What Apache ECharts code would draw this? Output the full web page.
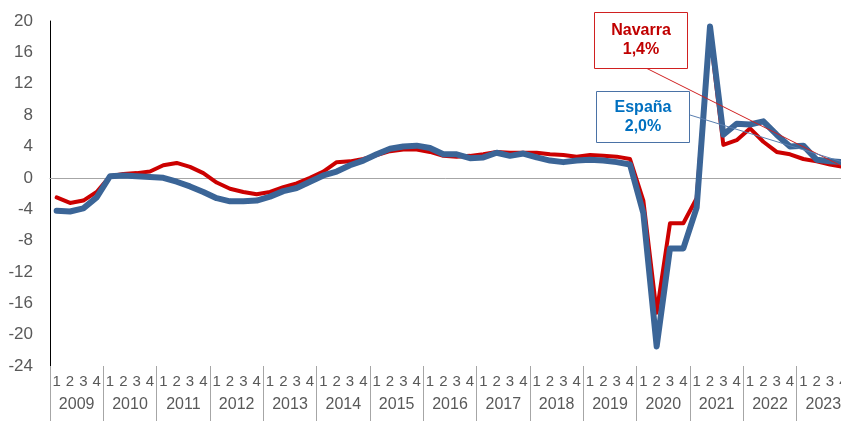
<!DOCTYPE html>
<html>
<head>
<meta charset="utf-8">
<script src="https://cdn.jsdelivr.net/npm/echarts@6/dist/echarts.min.js"></script>
<style>
html,body{margin:0;padding:0;background:#fff;}
#c{width:841px;height:421px;}
</style>
</head>
<body>
<div id="c"></div>
<script>
const years = ['2009','2010','2011','2012','2013','2014','2015','2016','2017','2018','2019','2020','2021','2022','2023'];
const quarters = ['1','2','3','4'];
const yTicks = {min: -24, max: 20, interval: 4};

const navarra = [
  -2.5, -3.2, -2.9, -1.8,
   0.2,  0.5,  0.6,  0.8,
   1.6,  1.9,  1.4,  0.6,
  -0.6, -1.4, -1.8, -2.1,
  -1.8, -1.2, -0.7,  0.0,
   0.8,  2.0,  2.1,  2.4,
   2.9,  3.4,  3.6,  3.6,
   3.3,  2.8,  2.7,  2.8,
   3.0,  3.3,  3.2,  3.2,
   3.2,  3.0,  2.9,  2.7,
   2.9,  2.8,  2.7,  2.4,
  -2.9, -17.2, -5.8, -5.8,
  -2.6, 18.5,  4.2,  4.8,
   6.3,  4.6,  3.3,  3.0,
   2.4,  2.1,  1.7,  1.4
];
const espana = [
  -4.2, -4.3, -3.9, -2.5,
   0.2,  0.3,  0.2,  0.1,
   0.0, -0.5, -1.1, -1.8,
  -2.6, -3.0, -3.0, -2.9,
  -2.4, -1.7, -1.3, -0.5,
   0.3,  0.8,  1.6,  2.2,
   3.0,  3.7,  4.0,  4.1,
   3.8,  3.0,  3.0,  2.5,
   2.6,  3.2,  2.8,  3.1,
   2.6,  2.2,  2.0,  2.2,
   2.3,  2.2,  2.0,  1.7,
  -4.5, -21.5, -9.0, -9.0,
  -3.8, 19.3,  5.5,  6.9,
   6.8,  7.2,  5.5,  4.0,
   4.1,  2.3,  2.1,  2.0
];
const labelNavarra = ['Navarra', '1,4%'];
const labelEspana = ['España', '2,0%'];

const categories = [];
years.forEach(y => quarters.forEach(q => categories.push(y + '-' + q)));

const font = '"Liberation Sans", Arial, sans-serif';
const chart = echarts.init(document.getElementById('c'), null, {renderer: 'canvas'});

const option = {
  animation: false,
  backgroundColor: '#ffffff',
  grid: {left: 50, top: 21, width: 800, height: 345, containLabel: false, outerBoundsMode: 'none'},
  xAxis: [
    {
      type: 'category', data: categories, position: 'bottom', boundaryGap: true,
      axisLine: {show: false, onZero: false}, axisTick: {show: false},
      axisLabel: {interval: 0, margin: 8, fontSize: 15, color: '#595959', fontFamily: font,
        formatter: v => v.split('-')[1]},
      splitLine: {show: false}
    },
    {
      type: 'category', data: years, position: 'bottom', boundaryGap: true,
      axisLine: {show: false, onZero: false},
      axisTick: {show: true, interval: 0, length: 60, lineStyle: {color: '#a6a6a6', width: 1}},
      axisLabel: {interval: 0, margin: 31, fontSize: 16, color: '#595959', fontFamily: font},
      splitLine: {show: false}
    },
    {
      type: 'category', data: categories, position: 'bottom', boundaryGap: true,
      axisLine: {show: true, onZero: true, lineStyle: {color: '#a6a6a6', width: 1}},
      axisTick: {show: false}, axisLabel: {show: false}, splitLine: {show: false}
    }
  ],
  yAxis: {
    type: 'value', min: yTicks.min, max: yTicks.max, interval: yTicks.interval,
    axisLine: {show: true, lineStyle: {color: '#000000', width: 1}},
    axisTick: {show: false},
    splitLine: {show: false},
    axisLabel: {fontSize: 17, color: '#595959', margin: 17, fontFamily: font}
  },
  series: [
    {
      name: 'Navarra', type: 'line', data: navarra, xAxisIndex: 0,
      symbol: 'none', smooth: false, z: 3,
      lineStyle: {color: '#cc0000', width: 4, join: 'round', cap: 'round'}
    },
    {
      name: 'España', type: 'line', data: espana, xAxisIndex: 0,
      symbol: 'none', smooth: false, z: 4,
      lineStyle: {color: '#3b6597', width: 6, join: 'round', cap: 'round'}
    }
  ]
};
chart.setOption(option);

const lastIdx = categories.length - 1;
const pN = chart.convertToPixel({gridIndex: 0}, [lastIdx, navarra[lastIdx]]);
const pE = chart.convertToPixel({gridIndex: 0}, [lastIdx, espana[lastIdx]]);

chart.setOption({
  graphic: [
    {type: 'line', z: 10, shape: {x1: 646, y1: 68, x2: pN[0], y2: pN[1]},
      style: {stroke: '#d02020', lineWidth: 1}},
    {type: 'line', z: 10, shape: {x1: 690, y1: 115, x2: pE[0], y2: pE[1]},
      style: {stroke: '#5a7fb0', lineWidth: 1}},
    {type: 'rect', z: 11, shape: {x: 594.5, y: 12.5, width: 93, height: 56},
      style: {fill: '#ffffff', stroke: '#d02020', lineWidth: 1}},
    {type: 'text', z: 12, x: 641, y: 40.5,
      style: {text: labelNavarra.join('\n'), fill: '#c00000', font: 'bold 16px ' + font,
        align: 'center', verticalAlign: 'middle', lineHeight: 19}},
    {type: 'rect', z: 11, shape: {x: 596.5, y: 91.5, width: 93, height: 51},
      style: {fill: '#ffffff', stroke: '#4a72a6', lineWidth: 1}},
    {type: 'text', z: 12, x: 643, y: 117,
      style: {text: labelEspana.join('\n'), fill: '#0070c0', font: 'bold 16px ' + font,
        align: 'center', verticalAlign: 'middle', lineHeight: 19}}
  ]
});
</script>
</body>
</html>
